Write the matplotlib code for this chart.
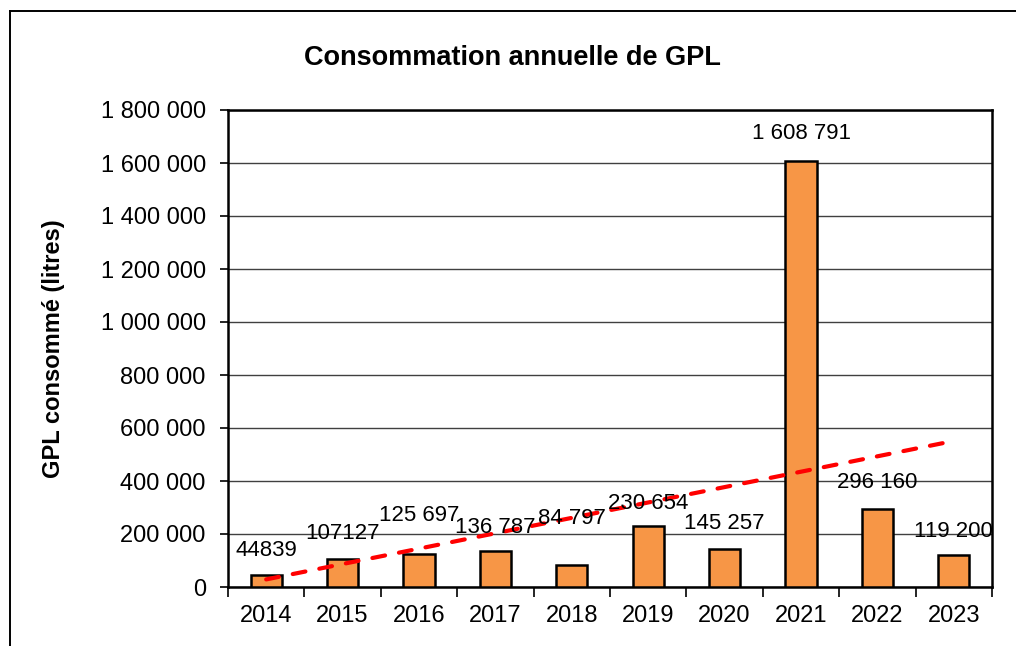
import matplotlib
matplotlib.use('Agg')
import matplotlib.pyplot as plt
import numpy as np
from matplotlib.ticker import FuncFormatter, FixedLocator

years = ['2014', '2015', '2016', '2017', '2018', '2019', '2020', '2021', '2022', '2023']
litres = [44839, 107127, 125697, 136787, 84797, 230654, 145257, 1608791, 296160, 119200]
labels = ['44839', '107127', '125 697', '136 787', '84 797', '230 654', '145 257',
          '1 608 791', '296 160', '119 200']
# how far above each bar Excel put the label (pixels)
lift_px = [25, 25, 38, 23, 46, 22, 25, 27, 26, 24]

plt.rcParams['font.family'] = ['Liberation Sans', 'DejaVu Sans']

fig = plt.figure(figsize=(10.16, 6.46), dpi=100)
ax = fig.add_axes([228/1016, 59/646, 764/1016, 477/646])

x = np.arange(len(years))
ax.bar(x, litres, width=0.41, color='#F79646', edgecolor='black', linewidth=1.8, zorder=3)

# linear trend (Excel style)
k, b = np.polyfit(x, litres, 1)
ax.plot(x, k*x + b, color='#FF0000', linestyle=(0, (3.1, 3.4)), linewidth=3.0,
        dash_capstyle='round', zorder=4)

for xi, v, lab, lp in zip(x, litres, labels, lift_px):
    ax.annotate(lab, (xi, v), xytext=(0, lp*0.72), textcoords='offset points',
                ha='center', va='center', fontsize=16, zorder=5)

ax.set_xlim(-0.5, len(years) - 0.5)
ax.set_ylim(0, 1800000)
ax.set_yticks(np.arange(0, 1800001, 200000))
ax.yaxis.set_major_formatter(FuncFormatter(lambda v, p: f"{int(v):,}".replace(',', ' ')))
ax.yaxis.grid(True, color='#404040', linewidth=1.0, zorder=0)
ax.set_axisbelow(True)

ax.set_xticks(x)
ax.set_xticklabels(years)
ax.xaxis.set_minor_locator(FixedLocator(np.arange(-0.5, len(years), 1.0)))
ax.tick_params(axis='x', which='major', length=0, pad=13, labelsize=17)
ax.tick_params(axis='x', which='minor', length=7, width=1.2, direction='out')
ax.tick_params(axis='y', length=6, width=1.2, direction='out', pad=10, labelsize=17)

for s in ax.spines.values():
    s.set_linewidth(1.8)
    s.set_color('black')

ax.set_ylabel('GPL consommé (litres)', fontsize=17, fontweight='bold')
ax.yaxis.set_label_coords(-0.2134, 0.5)

fig.text(512/1016, 1 - 58/646, 'Consommation annuelle de GPL', ha='center', va='center',
         fontsize=19.5, fontweight='bold')

# outer chart border (only left and top visible in the crop)
fig.add_artist(plt.Line2D([9.5/1016, 9.5/1016], [0, 1 - 11/646], color='black', linewidth=1.4,
                          transform=fig.transFigure))
fig.add_artist(plt.Line2D([9.5/1016, 1], [1 - 11/646, 1 - 11/646], color='black', linewidth=1.4,
                          transform=fig.transFigure))

fig.savefig('out.png', dpi=100)
